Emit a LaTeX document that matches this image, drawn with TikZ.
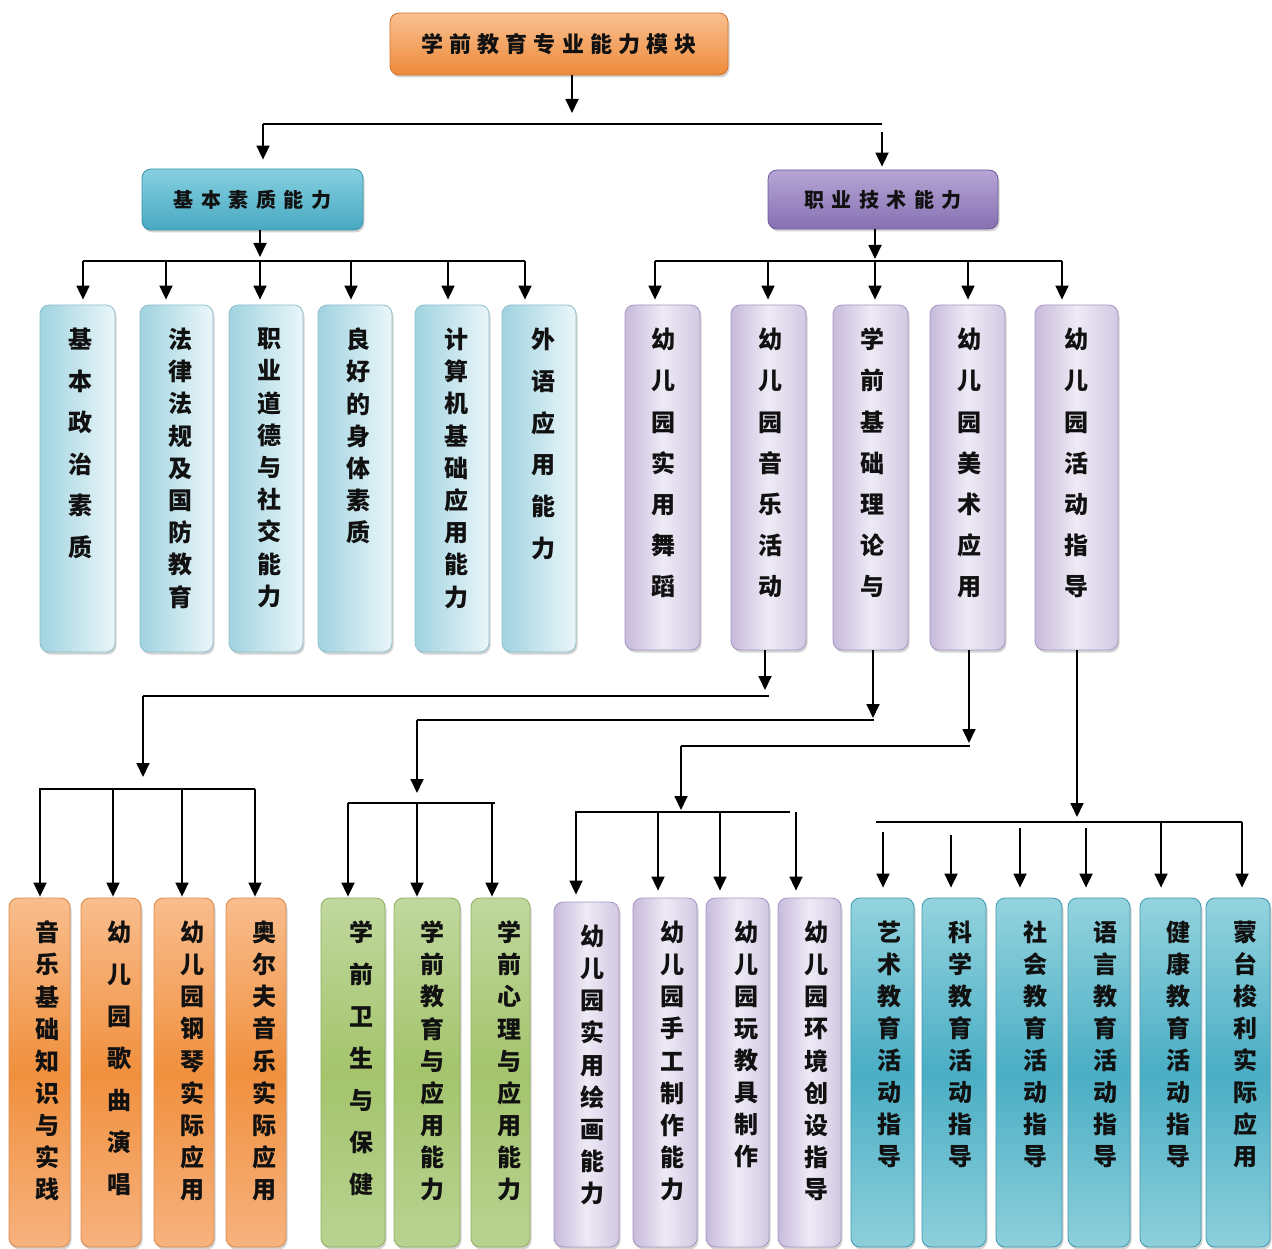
\documentclass[tikz,border=0pt]{standalone}
\usepackage{fontspec}
\setmainfont{Noto Sans CJK SC}
\usetikzlibrary{arrows.meta,shadows}

\definecolor{topT}{HTML}{F9C090}
\definecolor{topB}{HTML}{EE8A3B}
\definecolor{topD}{HTML}{D27430}
\definecolor{lsT}{HTML}{86D0E0}
\definecolor{lsB}{HTML}{47A9C1}
\definecolor{lsD}{HTML}{3A93AB}
\definecolor{rsT}{HTML}{B6A6D6}
\definecolor{rsB}{HTML}{8670B2}
\definecolor{rsD}{HTML}{6B5897}
\definecolor{blueL}{HTML}{A0D3E0}
\definecolor{blueR}{HTML}{EAF6F9}
\definecolor{blueD}{HTML}{8FBFCC}
\definecolor{purL}{HTML}{C7BADB}
\definecolor{purM}{HTML}{EEEAF5}
\definecolor{purR}{HTML}{D2C8E3}
\definecolor{purD}{HTML}{A597C0}
\definecolor{orT}{HTML}{F9BD8D}
\definecolor{orM}{HTML}{F0903E}
\definecolor{orB}{HTML}{F7B27E}
\definecolor{orD}{HTML}{D98A4A}
\definecolor{grT}{HTML}{C0D89E}
\definecolor{grM}{HTML}{A4C46C}
\definecolor{grB}{HTML}{B8D391}
\definecolor{grD}{HTML}{8FAE5E}
\definecolor{tlT}{HTML}{94D3DE}
\definecolor{tlM}{HTML}{4AAEC4}
\definecolor{tlB}{HTML}{8DCFDB}
\definecolor{tlD}{HTML}{3E97AD}
\definecolor{ink}{HTML}{111111}

\makeatletter
% width, height, line skip, left shift (double of offset), characters
\newcommand{\vcol}[5]{\parbox[c][#2pt][t]{#1pt}{\centering\leftskip=#4pt plus 1fil\relax
  \fontsize{24pt}{#3pt}\selectfont\bfseries\color{ink}\vspace*{23pt}%
  \@tfor\vc@c:=#5\do{\vc@c\par}}}
\makeatother

\tikzset{
  arr/.style={draw=black, line width=1.8pt, -{Triangle[length=14pt,width=13pt]}},
  ln/.style={draw=black, line width=1.8pt},
  shad/.style={drop shadow={shadow xshift=1.5pt,shadow yshift=-2.5pt,opacity=0.35}},
  colb/.style={rounded corners=9pt, inner sep=0pt, line width=0.8pt, shad},
  bluecol/.style={colb, draw=blueD, left color=blueL, right color=blueR},
  purcol/.style={colb, draw=purD, left color=purL, right color=purR, middle color=purM},
  orcol/.style={colb, draw=orD, top color=orT, bottom color=orB, middle color=orM},
  grcol/.style={colb, draw=grD, top color=grT, bottom color=grB, middle color=grM},
  tlcol/.style={colb, draw=tlD, top color=tlT, bottom color=tlB, middle color=tlM},
  headbox/.style={rounded corners=9pt, inner sep=0pt, line width=0.8pt, shad, text=ink,
    font=\bfseries},
}

\begin{document}
\begin{tikzpicture}[x=1pt,y=-1pt]
\useasboundingbox (0,0) rectangle (1272,1249);

% ---- top levels
\node[headbox, draw=topD, top color=topT, bottom color=topB,
  minimum width=338pt, minimum height=62pt] (top) at (559,44)
  {\fontsize{22pt}{22pt}\selectfont\bfseries\addfontfeatures{LetterSpace=28}学前教育专业能力模块};
\node[headbox, draw=lsD, top color=lsT, bottom color=lsB,
  minimum width=221pt, minimum height=61pt] (L2) at (252.5,199.5)
  {\fontsize{20pt}{20pt}\selectfont\bfseries\addfontfeatures{LetterSpace=38}基本素质能力};
\node[headbox, draw=rsD, top color=rsT, bottom color=rsB,
  minimum width=230pt, minimum height=59pt] (R2) at (883,199.5)
  {\fontsize{20pt}{20pt}\selectfont\bfseries\addfontfeatures{LetterSpace=38}职业技术能力};

% ---- row 1 blue
\node[bluecol] (b1) at (77.5,478.5) {\vcol{75}{347}{41.6}{6}{基本政治素质}};
\node[bluecol] (b2) at (176.5,478.5) {\vcol{73}{347}{32.2}{8}{法律法规及国防教育}};
\node[bluecol] (b3) at (266,478.5) {\vcol{74}{347}{32.2}{6}{职业道德与社交能力}};
\node[bluecol] (b4) at (355,478.5) {\vcol{74}{347}{32.2}{6}{良好的身体素质}};
\node[bluecol] (b5) at (452,478.5) {\vcol{74}{347}{32.2}{8}{计算机基础应用能力}};
\node[bluecol] (b6) at (539,478.5) {\vcol{74}{347}{41.8}{8}{外语应用能力}};

% ---- row 1 purple
\node[purcol] (p1) at (662.5,477.5) {\vcol{75}{345}{41.2}{2}{幼儿园实用舞蹈}};
\node[purcol] (p2) at (768.5,477.5) {\vcol{75}{345}{41.2}{4}{幼儿园音乐活动}};
\node[purcol] (p3) at (870.5,477.5) {\vcol{75}{345}{41.2}{4}{学前基础理论与}};
\node[purcol] (p4) at (967.5,477.5) {\vcol{75}{345}{41.2}{3}{幼儿园美术应用}};
\node[purcol] (p5) at (1076.5,477.5) {\vcol{83}{345}{41.2}{0}{幼儿园活动指导}};

% ---- bottom row
\node[orcol] (o1) at (39.5,1072.5) {\vcol{61}{349}{32.1}{16}{音乐基础知识与实践}};
\node[orcol] (o2) at (111,1072.5) {\vcol{60}{349}{42}{16}{幼儿园歌曲演唱}};
\node[orcol] (o3) at (184,1072.5) {\vcol{60}{349}{32.1}{16}{幼儿园钢琴实际应用}};
\node[orcol] (o4) at (256,1072.5) {\vcol{60}{349}{32.1}{16}{奥尔夫音乐实际应用}};
\node[grcol] (g1) at (353,1072.5) {\vcol{64}{349}{42}{16}{学前卫生与保健}};
\node[grcol] (g2) at (427,1072.5) {\vcol{66}{349}{32.1}{10}{学前教育与应用能力}};
\node[grcol] (g3) at (500.5,1072.5) {\vcol{59}{349}{32.1}{18}{学前心理与应用能力}};
\node[purcol] (q1) at (586.5,1074.5) {\vcol{65}{345}{32.1}{12}{幼儿园实用绘画能力}};
\node[purcol] (q2) at (665,1072.5) {\vcol{64}{349}{32.1}{14}{幼儿园手工制作能力}};
\node[purcol] (q3) at (737.5,1072.5) {\vcol{63}{349}{32}{18}{幼儿园玩教具制作}};
\node[purcol] (q4) at (809.5,1072.5) {\vcol{63}{349}{32.1}{14}{幼儿园环境创设指导}};
\node[tlcol] (t1) at (882.5,1072.5) {\vcol{63}{349}{32}{14}{艺术教育活动指导}};
\node[tlcol] (t2) at (954,1072.5) {\vcol{64}{349}{32}{12}{科学教育活动指导}};
\node[tlcol] (t3) at (1029,1072.5) {\vcol{66}{349}{32}{12}{社会教育活动指导}};
\node[tlcol] (t4) at (1099,1072.5) {\vcol{62}{349}{32}{12}{语言教育活动指导}};
\node[tlcol] (t5) at (1170.5,1072.5) {\vcol{61}{349}{32}{16}{健康教育活动指导}};
\node[tlcol] (t6) at (1238,1072.5) {\vcol{64}{349}{32}{14}{蒙台梭利实际应用}};

% ---- connectors: top
\coordinate (j0) at (572,113);
\coordinate (h1l) at (263,124);
\coordinate (h1r) at (882,124);
\draw[arr] (top.south -| j0) -- (j0);
\draw[ln] (h1l) -- (h1r);
\draw[arr, shorten >=9pt] (h1l) -- (h1l |- L2.north);
\draw[arr, shorten <=8pt, shorten >=3pt] (h1r) -- (h1r |- R2.north);

% ---- left subtree
\coordinate (j1) at (260,257);
\coordinate (h2l) at (83,261);
\coordinate (h2r) at (525,261);
\draw[arr] (L2.south -| j1) -- (j1);
\draw[ln] (h2l) -- (h2r);
\foreach \x/\n in {83/b1,166/b2,260/b3,351/b4,448/b5,525/b6}{
  \coordinate (tmp) at (\x,261);
  \draw[arr, shorten >=5pt] (tmp) -- (tmp |- \n.north);
}

% ---- right subtree
\coordinate (c3) at (875,261);
\coordinate (c3t) at (875,259);
\coordinate (h3l) at (655,261);
\coordinate (h3r) at (1062,261);
\draw[ln] (h3l) -- (h3r);
\draw[arr] (R2.south -| c3) -- (c3t);
\draw[arr, shorten >=5pt] (c3) -- (c3 |- p3.north);
\foreach \x/\n in {655/p1,768/p2,968/p4,1062/p5}{
  \coordinate (tmp) at (\x,261);
  \draw[arr, shorten >=5pt] (tmp) -- (tmp |- \n.north);
}

% ---- music branch
\coordinate (m0) at (765,690);
\coordinate (m1) at (143,696);
\coordinate (m2) at (769,696);
\coordinate (m3) at (143,777);
\coordinate (mo1) at (39,789);
\coordinate (mo2) at (255,789);
\draw[arr] (p2.south -| m0) -- (m0);
\draw[ln] (m1) -- (m2);
\draw[arr] (m1) -- (m3);
\draw[ln] (mo1) -- (mo2);
\foreach \x/\n in {40/o1,113/o2,182/o3,255/o4}{
  \coordinate (tmp) at (\x,789);
  \draw[arr, shorten >=1pt] (tmp) -- (tmp |- \n.north);
}

% ---- theory branch
\coordinate (n0) at (873,718);
\coordinate (n1) at (417,720);
\coordinate (n2) at (874,720);
\coordinate (n3) at (417,793);
\coordinate (no1) at (348,803);
\coordinate (no2) at (495,803);
\draw[arr] (p3.south -| n0) -- (n0);
\draw[ln] (n1) -- (n2);
\draw[arr] (n1) -- (n3);
\draw[ln] (no1) -- (no2);
\foreach \x/\n in {348/g1,417/g2,492/g3}{
  \coordinate (tmp) at (\x,803);
  \draw[arr, shorten >=1pt] (tmp) -- (tmp |- \n.north);
}

% ---- art branch
\coordinate (a0) at (969,743);
\coordinate (a1) at (681,746);
\coordinate (a2) at (970,746);
\coordinate (a3) at (681,810);
\coordinate (ao1) at (575,812);
\coordinate (ao2) at (790,812);
\draw[arr] (p4.south -| a0) -- (a0);
\draw[ln] (a1) -- (a2);
\draw[arr] (a1) -- (a3);
\draw[ln] (ao1) -- (ao2);
\foreach \x/\n in {576/q1,658/q2,720/q3,796/q4}{
  \coordinate (tmp) at (\x,812);
  \draw[arr, shorten >=7pt] (tmp) -- (tmp |- \n.north);
}

% ---- activity branch
\coordinate (d0) at (1077,817);
\coordinate (d1) at (876,822);
\coordinate (d2) at (1242,822);
\draw[arr] (p5.south -| d0) -- (d0);
\draw[ln] (d1) -- (d2);
\foreach \x/\n/\s in {883/t1/10,951/t2/13,1020/t3/6,1086/t4/6,1161/t5/0,1242/t6/0}{
  \coordinate (tmp) at (\x,822);
  \draw[arr, shorten <=\s pt, shorten >=10pt] (tmp) -- (tmp |- \n.north);
}
\end{tikzpicture}
\end{document}
